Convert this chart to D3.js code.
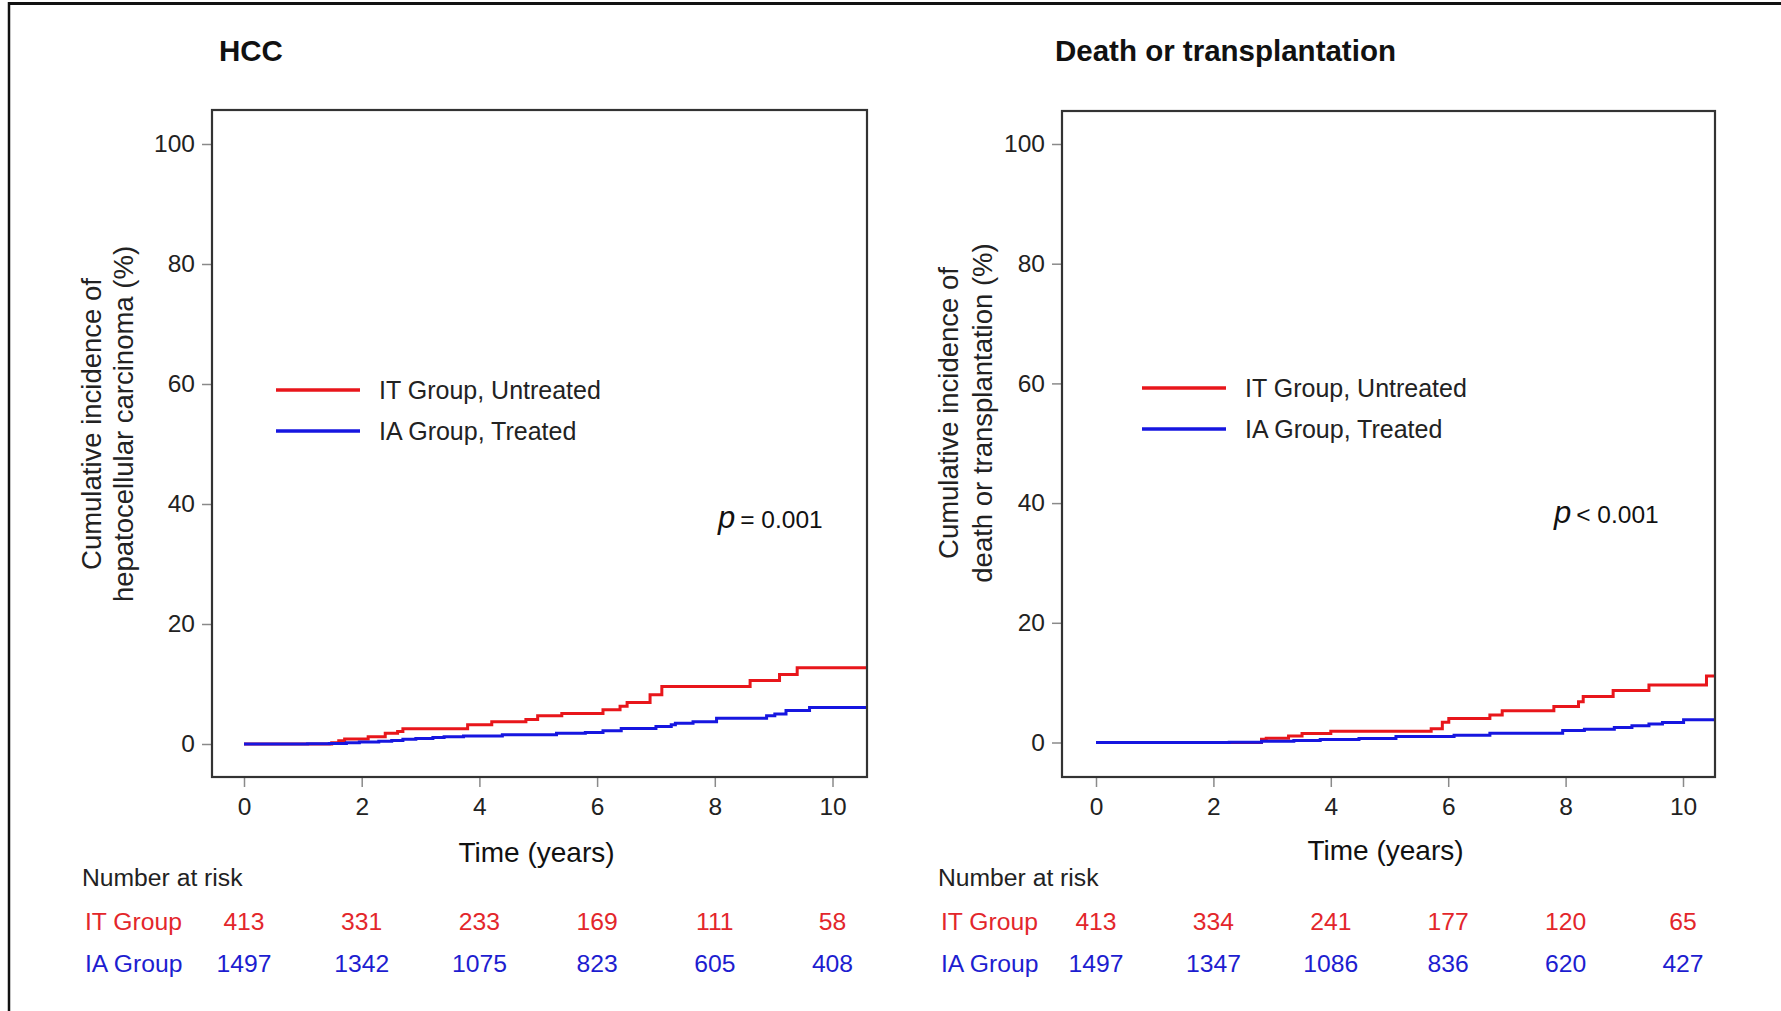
<!DOCTYPE html>
<html>
<head>
<meta charset="utf-8">
<script src="https://cdn.jsdelivr.net/npm/d3@7"></script>
<style>
  body { margin: 0; background: #fff; }
  svg { display: block; font-family: "Liberation Sans", Arial, sans-serif; }
  .tick line { stroke: #8a8a8a; stroke-width: 1.5; }
  .tick text { font-size: 24.5px; fill: #222; }
</style>
</head>
<body>
<svg id="chart" width="1781" height="1011"></svg>
<script>
// time axis ticks (years) and y ticks (%)
const years = [0, 2, 4, 6, 8, 10]
const pctTicks = [0, 20, 40, 60, 80, 100]

// HCC panel, step curves
const hccITTime = [0, 1.49, 1.61, 1.71, 2.11, 2.40, 2.61, 2.70, 3.80, 4.21, 4.79, 4.99, 5.40, 6.10, 6.39, 6.51, 6.90, 7.10, 8.60, 9.10, 9.40]
const hccITPct  = [0, 0.2, 0.55, 0.85, 1.2, 1.8, 2.1, 2.55, 3.2, 3.7, 4.1, 4.7, 5.1, 5.7, 6.3, 6.9, 8.2, 9.6, 10.6, 11.6, 12.7]
const hccIATime = [0, 1.08, 1.45, 1.74, 1.96, 2.29, 2.51, 2.70, 2.92, 3.21, 3.40, 3.73, 4.39, 5.31, 5.80, 6.10, 6.41, 7.00, 7.26, 7.33, 7.63, 8.03, 8.88, 9.02, 9.21, 9.61]
const hccIAPct  = [0, 0.05, 0.1, 0.2, 0.35, 0.45, 0.6, 0.8, 0.9, 1.1, 1.2, 1.35, 1.55, 1.8, 1.9, 2.2, 2.6, 2.9, 3.2, 3.45, 3.7, 4.3, 4.7, 5.0, 5.6, 6.1]

// death or transplantation panel
const dtITTime = [0, 2.82, 2.90, 3.28, 3.51, 4.00, 5.71, 5.90, 6.01, 6.71, 6.92, 7.80, 8.22, 8.30, 8.81, 9.42, 10.40]
const dtITPct  = [0, 0.55, 0.7, 1.1, 1.5, 1.9, 2.3, 3.4, 4.0, 4.6, 5.3, 6.0, 6.8, 7.7, 8.7, 9.6, 11.1]
const dtIATime = [0, 2.27, 2.82, 3.37, 3.82, 4.48, 5.11, 6.10, 6.71, 7.95, 8.32, 8.83, 9.13, 9.42, 9.65, 10.01]
const dtIAPct  = [0, 0.05, 0.2, 0.35, 0.5, 0.65, 1.0, 1.2, 1.55, 2.0, 2.2, 2.5, 2.8, 3.1, 3.35, 3.8]

// number at risk
const hccITRisk = [413, 331, 233, 169, 111, 58]
const hccIARisk = [1497, 1342, 1075, 823, 605, 408]
const dtITRisk = [413, 334, 241, 177, 120, 65]
const dtIARisk = [1497, 1347, 1086, 836, 620, 427]

const groupNames = ['IT Group', 'IA Group']
const legendNames = ['IT Group, Untreated', 'IA Group, Treated']
const panelTitles = ['HCC', 'Death or transplantation']
const yTitles = [
    ['Cumulative incidence of', 'hepatocellular carcinoma (%)'],
    ['Cumulative incidence of', 'death or transplantation (%)']
]
const pTexts = ['= 0.001', '< 0.001']

const red = '#e8161b',
    blue = '#1616e0',
    redText = '#e3262b',
    blueText = '#1d1dd0'

const svg = d3.select('#chart')

// outer figure border (top and left only)
svg.append('line').attr('x1', 9).attr('x2', 1781).attr('y1', 3.5).attr('y2', 3.5)
    .attr('stroke', '#111').attr('stroke-width', 3)
svg.append('line').attr('x1', 9).attr('x2', 9).attr('y1', 2).attr('y2', 1011)
    .attr('stroke', '#111').attr('stroke-width', 2.5)

const panels = [
    {
        frame: { x0: 212, x1: 867, y0: 110, y1: 777 },
        xr: [244, 832.5], yr: [744, 144],
        title: panelTitles[0], yTitle: yTitles[0], yTitleX: [91, 123], yTitleY: 424,
        series: [[hccITTime, hccITPct], [hccIATime, hccIAPct]],
        risk: [hccITRisk, hccIARisk],
        legend: { x: 276, y: 390 },
        p: { x: 718, y: 528, text: pTexts[0] },
        riskLeft: 82
    },
    {
        frame: { x0: 1062, x1: 1715, y0: 111, y1: 777 },
        xr: [1096, 1683], yr: [742.5, 144],
        title: panelTitles[1], yTitle: yTitles[1], yTitleX: [948, 982], yTitleY: 413,
        series: [[dtITTime, dtITPct], [dtIATime, dtIAPct]],
        risk: [dtITRisk, dtIARisk],
        legend: { x: 1142, y: 388 },
        p: { x: 1554, y: 523, text: pTexts[1] },
        riskLeft: 938
    }
]

panels.forEach((p, i) => drawPanel(p, i))

function drawPanel(p, i) {
    const f = p.frame
    const x = d3.scaleLinear().domain([0, 10]).range(p.xr)
    const y = d3.scaleLinear().domain([0, 100]).range(p.yr)
    const g = svg.append('g')

    // title
    g.append('text')
        .attr('x', p.frame.x0 + (i == 0 ? 7 : -7)).attr('y', 61)
        .style('font-size', '29.5px').style('font-weight', 'bold').attr('fill', '#111')
        .text(p.title)

    // axes
    g.append('g')
        .attr('transform', `translate(0, ${f.y1})`)
        .call(d3.axisBottom(x).tickValues(years).tickSize(10).tickPadding(11))
        .call(a => a.select('.domain').remove())

    g.append('g')
        .attr('transform', `translate(${f.x0}, 0)`)
        .call(d3.axisLeft(y).tickValues(pctTicks).tickSize(10).tickPadding(7))
        .call(a => a.select('.domain').remove())

    // curves
    const clipId = 'clip' + i
    g.append('clipPath').attr('id', clipId)
        .append('rect').attr('x', f.x0).attr('y', f.y0)
        .attr('width', f.x1 - f.x0).attr('height', f.y1 - f.y0)

    const line = d3.line()
        .x(d => x(d[0]))
        .y(d => y(d[1]))
        .curve(d3.curveStepAfter)

    const tEnd = x.invert(f.x1)
    p.series.forEach(([times, pcts], k) => {
        const pts = times.map((t, j) => [t, pcts[j]])
        pts.push([tEnd, pcts[pcts.length - 1]])
        g.append('path')
            .attr('clip-path', `url(#${clipId})`)
            .attr('d', line(pts))
            .attr('fill', 'none')
            .attr('stroke', k == 0 ? red : blue)
            .attr('stroke-width', 3)
    })

    // frame
    g.append('rect')
        .attr('x', f.x0).attr('y', f.y0)
        .attr('width', f.x1 - f.x0).attr('height', f.y1 - f.y0)
        .attr('fill', 'none').attr('stroke', '#333').attr('stroke-width', 2.2)

    // axis titles
    g.append('text')
        .attr('x', (f.x0 + f.x1) / 2 - 3).attr('y', i == 0 ? 862 : 860)
        .attr('text-anchor', 'middle')
        .style('font-size', '28px').attr('fill', '#111')
        .text('Time (years)')

    p.yTitle.forEach((t, k) => {
        g.append('text')
            .attr('transform', `translate(${p.yTitleX[k]}, ${p.yTitleY}) rotate(-90)`)
            .attr('text-anchor', 'middle')
            .attr('dy', '0.35em')
            .style('font-size', '27.5px').attr('fill', '#222')
            .text(t)
    })

    // legend
    legendNames.forEach((name, k) => {
        const ly = p.legend.y + k * 41
        g.append('line')
            .attr('x1', p.legend.x).attr('x2', p.legend.x + 84)
            .attr('y1', ly).attr('y2', ly)
            .attr('stroke', k == 0 ? red : blue).attr('stroke-width', 3.5)
        g.append('text')
            .attr('x', p.legend.x + 103).attr('y', ly).attr('dy', '0.35em')
            .style('font-size', '25px').attr('fill', '#222')
            .text(name)
    })

    // p value
    const pt = g.append('text')
        .attr('x', p.p.x).attr('y', p.p.y)
        .attr('fill', '#111')
    pt.append('tspan').style('font-style', 'italic').style('font-size', '31px').text('p')
    pt.append('tspan').attr('dx', 5).style('font-size', '24.5px').text(p.p.text)

    // number at risk
    g.append('text')
        .attr('x', p.riskLeft).attr('y', 886)
        .style('font-size', '24.7px').attr('fill', '#222')
        .text('Number at risk')

    p.risk.forEach((vals, k) => {
        const ry = 930 + k * 42
        const col = k == 0 ? redText : blueText
        g.append('text')
            .attr('x', p.riskLeft + 3).attr('y', ry)
            .style('font-size', '24.7px').attr('fill', col)
            .text(groupNames[k])
        g.selectAll(null)
            .data(vals)
            .enter().append('text')
            .attr('x', (d, j) => x(years[j]))
            .attr('y', ry)
            .attr('text-anchor', 'middle')
            .style('font-size', '24.7px').attr('fill', col)
            .text(d => d)
    })
}
</script>
</body>
</html>
